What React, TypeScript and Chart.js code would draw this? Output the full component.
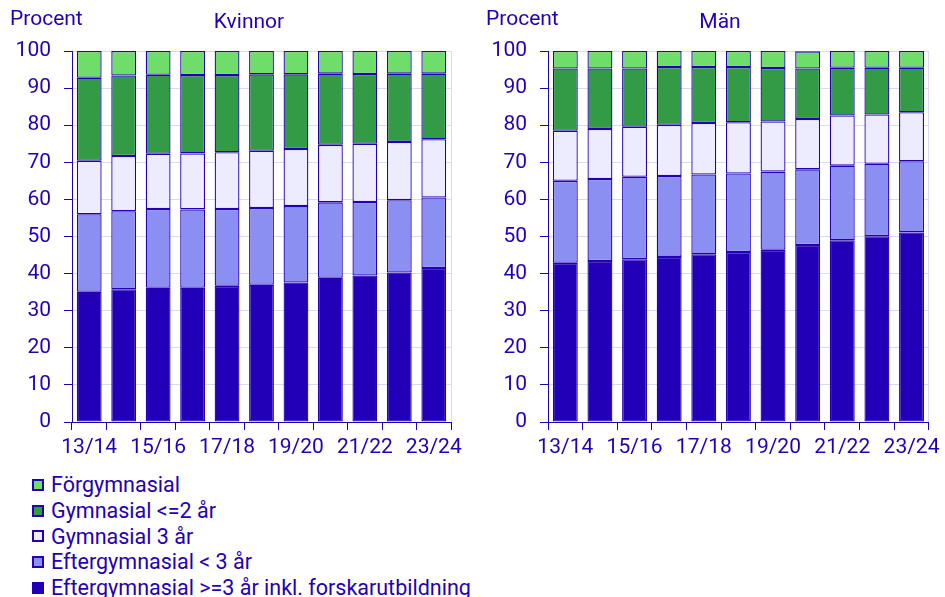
import React, { useEffect, useRef } from 'react';
import { Chart, registerables } from 'chart.js';
Chart.register(...registerables);

const categories = ['13/14', '14/15', '15/16', '16/17', '17/18', '18/19', '19/20', '20/21', '21/22', '22/23', '23/24'];
const seriesNames = [
  'Eftergymnasial >=3 år inkl. forskarutbildning',
  'Eftergymnasial < 3 år',
  'Gymnasial 3 år',
  'Gymnasial <=2 år',
  'Förgymnasial',
];
const seriesColors = ['#2200b8', '#8c8ff2', '#ececfe', '#339a45', '#6fdd6a'];

// Kvinnor
const kvinnorEfter3 = [35.1, 35.8, 36.2, 36.2, 36.7, 37.0, 37.6, 38.9, 39.5, 40.3, 41.5];
const kvinnorEfterLt3 = [20.9, 21.0, 21.2, 21.1, 20.7, 20.7, 20.6, 20.3, 19.8, 19.5, 19.0];
const kvinnorGymn3 = [14.4, 14.9, 14.9, 15.1, 15.3, 15.4, 15.4, 15.5, 15.7, 15.7, 15.7];
const kvinnorGymn2 = [22.4, 21.7, 21.3, 21.1, 20.8, 20.6, 20.1, 19.2, 18.8, 18.4, 17.7];
const kvinnorForgymn = [7.2, 6.6, 6.4, 6.5, 6.5, 6.3, 6.3, 6.1, 6.2, 6.1, 6.1];

// Män
const manEfter3 = [42.9, 43.4, 43.9, 44.5, 45.2, 45.8, 46.4, 47.7, 49.0, 50.1, 51.1];
const manEfterLt3 = [22.1, 22.1, 22.2, 21.8, 21.5, 21.2, 21.1, 20.4, 20.1, 19.5, 19.2];
const manGymn3 = [13.5, 13.5, 13.5, 13.8, 13.9, 13.8, 13.5, 13.6, 13.5, 13.3, 13.2];
const manGymn2 = [16.8, 16.3, 15.7, 15.6, 15.1, 14.9, 14.4, 13.6, 12.9, 12.6, 12.0];
const manForgymn = [4.7, 4.7, 4.7, 4.3, 4.3, 4.3, 4.6, 4.6, 4.5, 4.5, 4.5];

const DARK = '#2200b8';
const GRID = '#dcdaf3';
const FONT = 'Roboto';
const FS = 21;

type PanelProps = {
  left: number;
  width: number;
  title: string;
  titleX: number;
  padRight: number;
  series: number[][];
};

function Panel({ left, width, title, titleX, padRight, series }: PanelProps) {
  const ref = useRef<HTMLCanvasElement | null>(null);
  useEffect(() => {
    if (!ref.current) return;
    const textPlugin = {
      id: 'panelTexts',
      afterDraw(chart: any) {
        const ctx = chart.ctx;
        ctx.save();
        ctx.font = `${FS}px ${FONT}`;
        ctx.fillStyle = DARK;
        ctx.textBaseline = 'middle';
        ctx.textAlign = 'left';
        ctx.fillText('Procent', 10, 20);
        ctx.textAlign = 'center';
        ctx.fillText(title, titleX, 23);
        ctx.restore();
      },
    };
    const chart = new Chart(ref.current, {
      type: 'bar',
      data: {
        labels: categories,
        datasets: series.map((d, i) => ({
          label: seriesNames[i],
          data: d,
          backgroundColor: seriesColors[i],
          borderColor: DARK,
          borderWidth: 1.3,
          borderSkipped: false,
        })),
      },
      options: {
        responsive: false,
        maintainAspectRatio: false,
        animation: false,
        layout: { padding: { top: 51, left: 0, right: padRight, bottom: 0 } },
        plugins: { legend: { display: false }, tooltip: { enabled: false }, title: { display: false } },
        scales: {
          x: {
            stacked: true,
            grid: {
              offset: true,
              drawOnChartArea: true,
              color: (c: any) => (c.type === 'scale' ? GRID : 'rgba(0,0,0,0)'),
              tickColor: DARK,
              tickLength: 8,
            },
            border: { color: DARK, width: 1 },
            ticks: {
              color: DARK,
              font: { family: FONT, size: FS },
              autoSkip: false,
              maxRotation: 0,
              minRotation: 0,
              padding: 5,
              callback: (_v: any, i: number) => (i % 2 === 0 ? categories[i] : ''),
            },
            afterFit: (s: any) => {
              s.height = 38;
            },
          },
          y: {
            stacked: true,
            min: 0,
            max: 100,
            ticks: { stepSize: 10, color: DARK, font: { family: FONT, size: FS }, padding: 13 },
            grid: { color: GRID, tickColor: DARK, tickLength: 8 },
            border: { color: DARK, width: 1 },
            afterFit: (s: any) => {
              s.width = 72;
            },
          },
        },
      },
      plugins: [textPlugin],
    });
    return () => chart.destroy();
  }, []);
  return (
    <canvas
      ref={ref}
      width={width}
      height={460}
      style={{ position: 'absolute', left, top: 0, width, height: 460 }}
    />
  );
}

export default function App() {
  const legendOrder = [4, 3, 2, 1, 0];
  return (
    <div style={{ position: 'absolute', left: 0, top: 0, width: 945, height: 597, background: '#fff', overflow: 'hidden' }}>
      <Panel
        left={0}
        width={476}
        title="Kvinnor"
        titleX={249}
        padRight={25}
        series={[kvinnorEfter3, kvinnorEfterLt3, kvinnorGymn3, kvinnorGymn2, kvinnorForgymn]}
      />
      <Panel
        left={476}
        width={469}
        title="Män"
        titleX={244}
        padRight={12}
        series={[manEfter3, manEfterLt3, manGymn3, manGymn2, manForgymn]}
      />
      <div style={{ position: 'absolute', left: 32, top: 472, fontFamily: FONT, fontSize: 21.5, color: DARK }}>
        {legendOrder.map((i) => (
          <div key={i} style={{ display: 'flex', alignItems: 'center', height: 25.7, whiteSpace: 'nowrap' }}>
            <span
              style={{
                display: 'inline-block',
                width: 12,
                height: 12,
                boxSizing: 'border-box',
                border: `2px solid ${DARK}`,
                background: seriesColors[i],
                marginRight: 7,
              }}
            />
            <span>{seriesNames[i]}</span>
          </div>
        ))}
      </div>
    </div>
  );
}
